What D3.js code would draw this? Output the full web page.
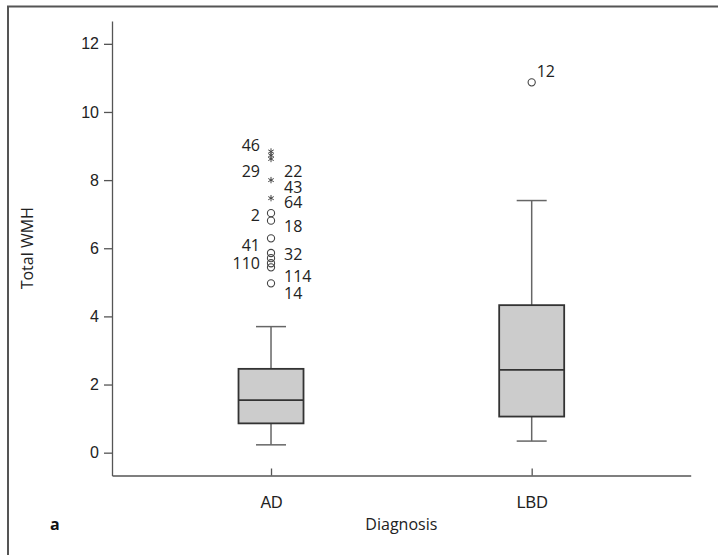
<!DOCTYPE html>
<html>
  <head>
    <title>Total WMH by diagnosis</title>
    <script src="https://d3js.org/d3.v7.min.js"></script>
    <style type="text/css">
      body {
        margin: 0;
        background: #ffffff;
      }

      svg {
        display: block;
        font-family: 'Open Sans', sans-serif;
      }

      .tick text {
        font-size: 16px;
        fill: #222;
      }
    </style>
  </head>

  <body>
    <div class="chart"></div>
    <script type="text/javascript">
      // groups on the x axis
      var categories = ['AD', 'LBD'];

      // box stats: lower whisker, Q1, median, Q3, upper whisker
      var whiskerLow  = [0.23, 0.34];
      var q1          = [0.86, 1.06];
      var medians     = [1.54, 2.43];
      var q3          = [2.46, 4.33];
      var whiskerHigh = [3.70, 7.40];

      // outliers (circles) and extremes (stars)
      var outlierGroup  = ['AD', 'AD', 'AD', 'AD', 'AD', 'AD', 'AD', 'AD', 'LBD'];
      var outlierValues = [7.03, 6.81, 6.29, 5.86, 5.71, 5.56, 5.44, 4.97, 10.87];
      var extremeGroup  = ['AD', 'AD', 'AD', 'AD', 'AD'];
      var extremeValues = [8.84, 8.73, 8.62, 8.00, 7.47];

      // case numbers printed next to the points, with the level they sit at
      var caseLabels = ['46', '29', '2', '41', '110', '22', '43', '64', '18', '32', '114', '14', '12'];
      var caseGroup  = ['AD', 'AD', 'AD', 'AD', 'AD', 'AD', 'AD', 'AD', 'AD', 'AD', 'AD', 'AD', 'LBD'];
      var caseSide   = ['left', 'left', 'left', 'left', 'left', 'right', 'right', 'right', 'right', 'right', 'right', 'right', 'right'];
      var caseLevel  = [9.03, 8.27, 6.98, 6.10, 5.57, 8.27, 7.80, 7.36, 6.64, 5.83, 5.18, 4.68, 11.2];

      var yTicks = [0, 2, 4, 6, 8, 10, 12];

      function drawChart () {
        var width = 718;
        var height = 555;

        var svg = d3.select('.chart').append('svg')
                    .attr('width', width)
                    .attr('height', height);

        // outer frame (only top and left edges show in the crop)
        svg.append('path')
          .attr('d', 'M8,555 V6.5 H718')
          .attr('fill', 'none')
          .attr('stroke', '#555')
          .attr('stroke-width', 2);

        var x = d3.scalePoint()
                  .domain(categories)
                  .range([112, 690.7])
                  .padding(0.61);

        var y = d3.scaleLinear()
                  .domain([-0.67, 12.67])
                  .range([475.5, 21]);

        var yAxis = svg.append('g')
          .attr('transform', 'translate(112,0)')
          .call(d3.axisLeft(y).tickValues(yTicks).tickSize(8).tickPadding(5).tickSizeOuter(0));

        var xAxis = svg.append('g')
          .attr('transform', 'translate(0,475.5)')
          .call(d3.axisBottom(x).tickSize(8).tickPadding(7).tickSizeOuter(0));

        svg.selectAll('.domain, .tick line')
          .attr('stroke', '#555')
          .attr('stroke-width', 1.3);

        xAxis.selectAll('.tick line').attr('y2', -7);
        xAxis.selectAll('.tick text').attr('dy', '1.1em');

        // axis titles
        svg.append('text')
          .attr('transform', 'translate(33,' + y(6.0) + ') rotate(-90)')
          .attr('text-anchor', 'middle')
          .style('font-size', '16px')
          .attr('fill', '#222')
          .text('Total WMH');

        svg.append('text')
          .attr('x', (112 + 690.7) / 2)
          .attr('y', 530)
          .attr('text-anchor', 'middle')
          .style('font-size', '16px')
          .attr('fill', '#222')
          .text('Diagnosis');

        svg.append('text')
          .attr('x', 50)
          .attr('y', 530)
          .style('font-size', '16px')
          .style('font-weight', 'bold')
          .attr('fill', '#111')
          .text('a');

        var boxes = categories.map(function (c, i) {
          return {cat: c, lo: whiskerLow[i], q1: q1[i], med: medians[i], q3: q3[i], hi: whiskerHigh[i]};
        });

        var boxW = 65;
        var capW = 30;

        var g = svg.selectAll('.box')
          .data(boxes)
          .enter()
          .append('g')
            .attr('class', 'box');

        // whiskers
        g.append('line')
          .attr('x1', function (d) { return x(d.cat); })
          .attr('x2', function (d) { return x(d.cat); })
          .attr('y1', function (d) { return y(d.hi); })
          .attr('y2', function (d) { return y(d.q3); })
          .attr('stroke', '#666').attr('stroke-width', 1.5);
        g.append('line')
          .attr('x1', function (d) { return x(d.cat); })
          .attr('x2', function (d) { return x(d.cat); })
          .attr('y1', function (d) { return y(d.q1); })
          .attr('y2', function (d) { return y(d.lo); })
          .attr('stroke', '#666').attr('stroke-width', 1.5);
        ['hi', 'lo'].forEach(function (k) {
          g.append('line')
            .attr('x1', function (d) { return x(d.cat) - capW / 2; })
            .attr('x2', function (d) { return x(d.cat) + capW / 2; })
            .attr('y1', function (d) { return y(d[k]); })
            .attr('y2', function (d) { return y(d[k]); })
            .attr('stroke', '#666').attr('stroke-width', 1.5);
        });

        // box and median
        g.append('rect')
          .attr('x', function (d) { return x(d.cat) - boxW / 2; })
          .attr('y', function (d) { return y(d.q3); })
          .attr('width', boxW)
          .attr('height', function (d) { return y(d.q1) - y(d.q3); })
          .attr('fill', '#cccccc')
          .attr('stroke', '#333')
          .attr('stroke-width', 1.8);
        g.append('line')
          .attr('x1', function (d) { return x(d.cat) - boxW / 2; })
          .attr('x2', function (d) { return x(d.cat) + boxW / 2; })
          .attr('y1', function (d) { return y(d.med); })
          .attr('y2', function (d) { return y(d.med); })
          .attr('stroke', '#333').attr('stroke-width', 1.8);

        // outliers
        svg.selectAll('.outlier')
          .data(outlierValues.map(function (v, i) { return {cat: outlierGroup[i], v: v}; }))
          .enter()
          .append('circle')
            .attr('class', 'outlier')
            .attr('cx', function (d) { return x(d.cat); })
            .attr('cy', function (d) { return y(d.v); })
            .attr('r', 3.6)
            .attr('fill', 'none')
            .attr('stroke', '#444')
            .attr('stroke-width', 1.1);

        var star = d3.symbol().type(d3.symbolAsterisk).size(28);
        svg.selectAll('.extreme')
          .data(extremeValues.map(function (v, i) { return {cat: extremeGroup[i], v: v}; }))
          .enter()
          .append('path')
            .attr('class', 'extreme')
            .attr('d', star)
            .attr('transform', function (d) { return 'translate(' + x(d.cat) + ',' + y(d.v) + ')'; })
            .attr('fill', 'none')
            .attr('stroke', '#444')
            .attr('stroke-width', 1);

        // case labels
        svg.selectAll('.case')
          .data(caseLabels.map(function (t, i) {
            return {t: t, cat: caseGroup[i], side: caseSide[i], v: caseLevel[i]};
          }))
          .enter()
          .append('text')
            .attr('class', 'case')
            .attr('x', function (d) {
              if (d.cat == 'LBD') {
                return x(d.cat) + 5;
              }
              return d.side == 'left' ? x(d.cat) - 11 : x(d.cat) + 13;
            })
            .attr('y', function (d) { return y(d.v); })
            .attr('dy', '0.36em')
            .attr('text-anchor', function (d) { return d.side == 'left' ? 'end' : 'start'; })
            .style('font-size', '16px')
            .attr('fill', '#222')
            .text(function (d) { return d.t; });
      }

      drawChart();
    </script>
  </body>
</html>
